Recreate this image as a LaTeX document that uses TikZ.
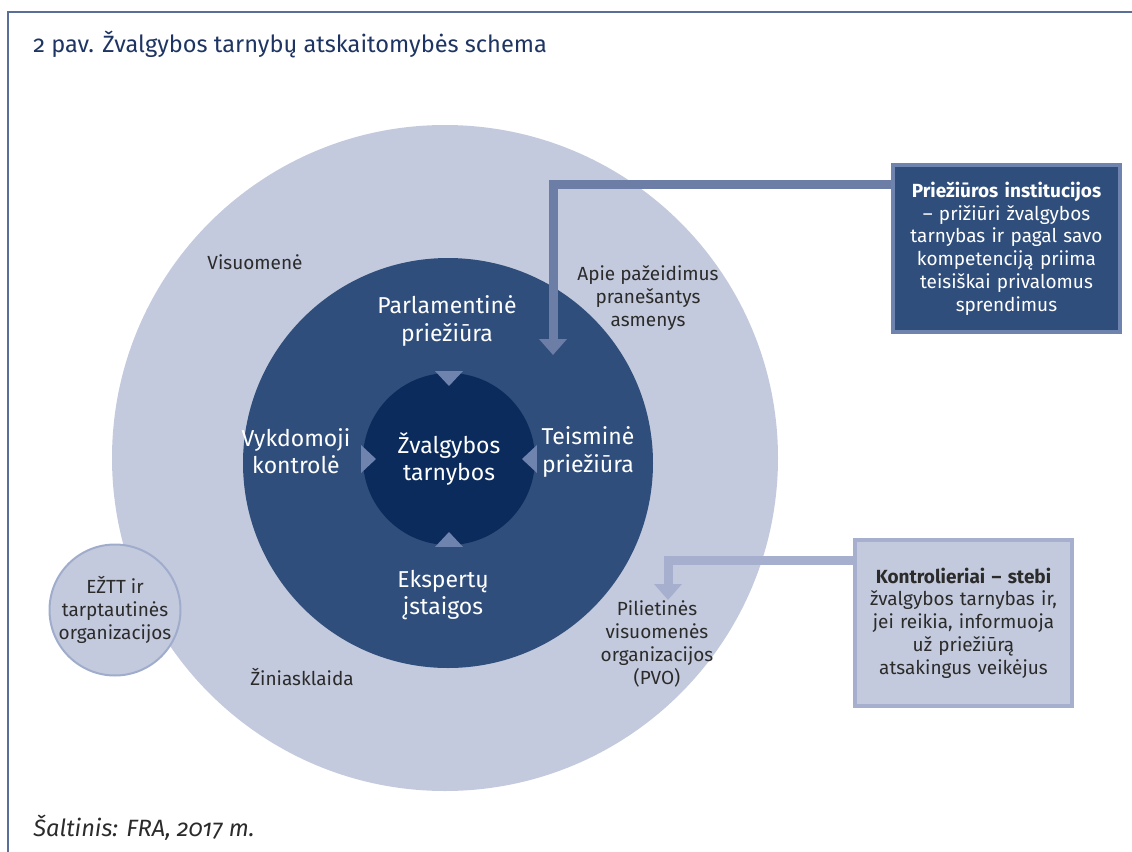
\documentclass[tikz,border=0pt]{standalone}
\usepackage{fontspec}
\setmainfont{Fira Sans}
\newfontfamily\osf[Numbers=OldStyle]{Fira Sans}
\usetikzlibrary{arrows.meta,positioning}
\definecolor{claro}{HTML}{C4CADD}
\definecolor{medio}{HTML}{2F4E7C}
\definecolor{oscuro}{HTML}{0B2B5D}
\definecolor{tri}{HTML}{6E83AD}
\definecolor{flechaoscura}{HTML}{6C7DA6}
\definecolor{flechaclara}{HTML}{A6B0CE}
\definecolor{borde}{HTML}{9FACCB}
\definecolor{marco}{HTML}{5B6E99}
\definecolor{titulo}{HTML}{1E3462}
\definecolor{textogris}{HTML}{2B2B2B}
\begin{document}
\begin{tikzpicture}[x=0.5pt,y=-0.5pt,
  etiqueta/.style={align=center,text=textogris,font=\fontsize{9.5}{11.4}\selectfont,inner sep=0pt},
  interior/.style={align=center,text=white,font=\fontsize{11.5}{13.6}\selectfont,inner sep=0pt},
  circulo/.style={circle,inner sep=0pt},
  caja/.style={draw,line width=2.2pt,align=center,inner sep=0pt,text width=104pt,font=\fontsize{9.5}{11.4}\selectfont},
  flecha/.style={line width=4.5pt,line join=miter,-{Triangle[width=13.5pt,length=8pt]}}]
    \useasboundingbox (0,0) rectangle (1132,852);

    % Dibuja el marco y el titulo
    \draw[marco,line width=1pt] (8,852) |- (1132,12);
    \node[anchor=west,text=titulo,font=\fontsize{11.8}{13}\selectfont\osf,inner sep=0pt] (titulo) at (33,45) {2 pav. Žvalgybos tarnybų atskaitomybės schema};

    % Dibuja los circulos
    \node[circulo,fill=claro,minimum size=333pt] (visuomene) at (445,458) {};
    \node[circulo,fill=medio,minimum size=205pt] (kontrole) at (448,463) {};
    \node[circulo,fill=oscuro,minimum size=86pt,interior] (tarnybos) at (449,459) {Žvalgybos\\tarnybos};
    \node[circulo,fill=claro,draw=borde,line width=1pt,minimum size=63pt,etiqueta] (eztt) at (115,610) {EŽTT ir\\tarptautinės\\organizacijos};

    % Dibuja los triangulos
    \foreach \a in {0,90,180,270}
        \fill[tri] ([shift={(\a-9:89)}]tarnybos.center) -- ([shift={(\a+9:89)}]tarnybos.center) -- ([shift={(\a:73)}]tarnybos.center) -- cycle;

    % Etiquetas
    \node[etiqueta] (visuomenelbl) at (255,262) {Visuomenė};
    \node[etiqueta] (pranesejai) at (648,298) {Apie pažeidimus\\pranešantys\\asmenys};
    \node[interior] (parlamentas) at (447,321) {Parlamentinė\\priežiūra};
    \node[interior] (vykdomoji) at (296,451) {Vykdomoji\\kontrolė};
    \node[interior] (teismai) at (588,452) {Teisminė\\priežiūra};
    \node[interior] (ekspertai) at (443,595) {Ekspertų\\įstaigos};
    \node[etiqueta] (pvo) at (657,644) {Pilietinės\\visuomenės\\organizacijos\\(PVO)};
    \node[etiqueta] (ziniasklaida) at (302,677) {Žiniasklaida};

    % Cajas de la derecha
    \node[caja,draw=tri,fill=medio,text=white,minimum width=113.5pt,minimum height=83.5pt] (prieziura) at (1006.5,248.5) {\textbf{Priežiūros institucijos}\\– prižiūri žvalgybos\\tarnybas ir pagal savo\\kompetenciją priima\\teisiškai privalomus\\sprendimus};
    \node[caja,draw=flechaclara,fill=claro,text=textogris,minimum width=108.5pt,minimum height=83pt] (kontrolieriai) at (963.5,623) {\textbf{Kontrolieriai – stebi}\\žvalgybos tarnybas ir,\\jei reikia, informuoja\\už priežiūrą\\atsakingus veikėjus};

    % Flechas
    \coordinate (codo1) at (553,184);
    \coordinate (punta1) at (553,355);
    \draw[flecha,flechaoscura] (prieziura.west |- codo1) -- (codo1) -- (punta1);
    \coordinate (codo2) at (668,560);
    \coordinate (punta2) at (668,600);
    \draw[flecha,flechaclara] (kontrolieriai.west |- codo2) -- (codo2) -- (punta2);

    % Fuente
    \node[anchor=west,text=textogris,font=\fontsize{11.8}{13}\selectfont\itshape\osf,inner sep=0pt] (fuente) at (33,828) {Šaltinis: FRA, 2017 m.};
\end{tikzpicture}
\end{document}
